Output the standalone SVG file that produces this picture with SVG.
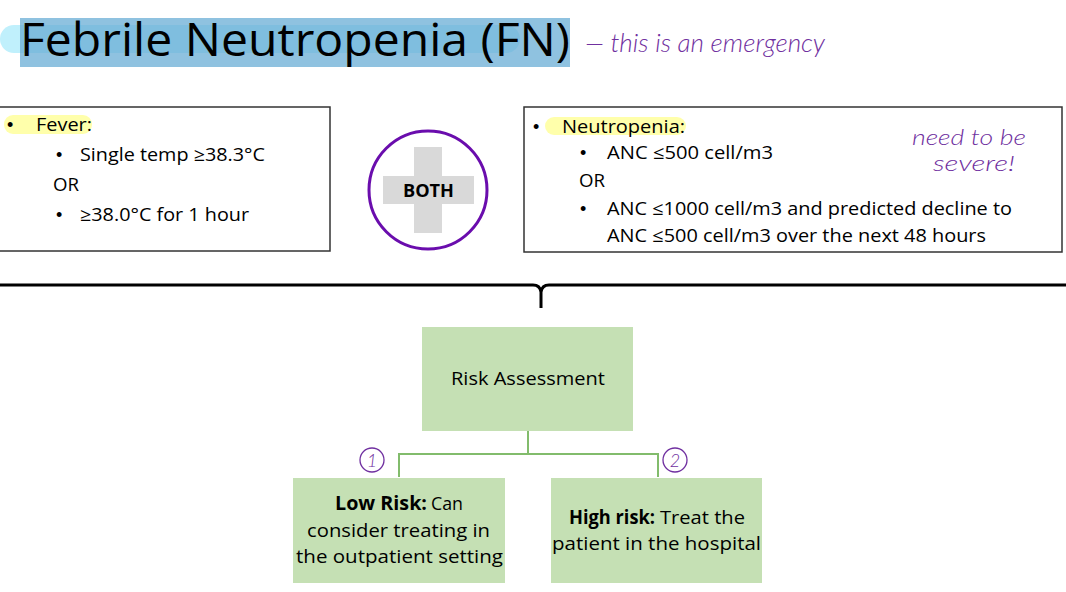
<svg xmlns="http://www.w3.org/2000/svg" width="1066" height="592" viewBox="0 0 1066 592">
<style>
.t{font-family:"Open Sans","Liberation Sans",Arial,sans-serif;fill:#000}
.b{font-family:"Liberation Sans",Arial,sans-serif;font-size:18px;fill:#000}
.hand{font-family:"Lato","DejaVu Sans",sans-serif;font-weight:300;font-style:italic;fill:#7030a0}
.box{fill:#fff;stroke:#333;stroke-width:1.5}
.gbox{fill:#c5e0b4}
.conn{fill:none;stroke:#82bc6c;stroke-width:2}
.hl{fill:#ffff66;opacity:0.55}
</style>
<rect width="1066" height="592" fill="#fff"/>
<g id="title">
  <rect x="0" y="25" width="520" height="28" rx="14" fill="#c0f0fc"/>
  <rect x="20" y="18" width="550" height="49" fill="#6aaed6" opacity="0.75"/>
  <text class="t" x="20" y="56" font-size="46" textLength="550" lengthAdjust="spacingAndGlyphs">Febrile Neutropenia (FN)</text>
  <text class="hand" x="585" y="52" font-size="26" textLength="240" lengthAdjust="spacingAndGlyphs">— this is an emergency</text>
</g>
<g id="fever">
  <rect class="box" x="-1" y="107" width="331" height="144"/>
  <rect class="hl" x="4" y="115" width="88" height="19" rx="9"/>
  <text class="b" x="7" y="131">•</text>
  <text class="b" x="56" y="161">•</text>
  <text class="b" x="56" y="221">•</text>
  <g class="t" font-size="18">
    <text x="36" y="131" textLength="56" lengthAdjust="spacingAndGlyphs">Fever:</text>
    <text x="80" y="161" textLength="185" lengthAdjust="spacingAndGlyphs">Single temp ≥38.3°C</text>
    <text x="53" y="191" textLength="26" lengthAdjust="spacingAndGlyphs">OR</text>
    <text x="80" y="221" textLength="169" lengthAdjust="spacingAndGlyphs">≥38.0°C for 1 hour</text>
  </g>
</g>
<g id="both">
  <circle cx="428" cy="190" r="59" fill="#fff" stroke="#6a0dad" stroke-width="3"/>
  <rect x="414" y="147" width="28" height="86" fill="#d9d9d9"/>
  <rect x="383" y="176" width="91" height="28" fill="#d9d9d9"/>
  <text class="t" x="403" y="197" font-size="17" font-weight="bold" textLength="51" lengthAdjust="spacingAndGlyphs">BOTH</text>
</g>
<g id="neutropenia">
  <rect class="box" x="524" y="107" width="538" height="145"/>
  <rect class="hl" x="545" y="117" width="141" height="18" rx="9"/>
  <text class="b" x="533" y="133">•</text>
  <text class="b" x="580" y="159">•</text>
  <text class="b" x="580" y="215">•</text>
  <g class="t" font-size="18">
    <text x="562" y="133" textLength="123" lengthAdjust="spacingAndGlyphs">Neutropenia:</text>
    <text x="607" y="159" textLength="166" lengthAdjust="spacingAndGlyphs">ANC ≤500 cell/m3</text>
    <text x="579" y="187" textLength="26" lengthAdjust="spacingAndGlyphs">OR</text>
    <text x="607" y="215" textLength="405" lengthAdjust="spacingAndGlyphs">ANC ≤1000 cell/m3 and predicted decline to</text>
    <text x="607" y="242" textLength="379" lengthAdjust="spacingAndGlyphs">ANC ≤500 cell/m3 over the next 48 hours</text>
  </g>
  <text class="hand" x="912" y="145" font-size="21" textLength="114" lengthAdjust="spacingAndGlyphs">need to be</text>
  <text class="hand" x="933" y="171" font-size="21" textLength="82" lengthAdjust="spacingAndGlyphs">severe!</text>
</g>
<g id="brace">
  <path d="M0 285 H533 Q540 285 541 292 V308 M541 292 Q542 285 549 285 H1066" fill="none" stroke="#000" stroke-width="3"/>
</g>
<g id="connectors">
  <path class="conn" d="M528 431 V454 M399 477 V454 H658 V477"/>
</g>
<g id="risk">
  <rect class="gbox" x="422" y="327" width="211" height="104"/>
  <text class="t" x="451" y="385" font-size="19" textLength="154" lengthAdjust="spacingAndGlyphs">Risk Assessment</text>
</g>
<g id="low">
  <rect class="gbox" x="293" y="478" width="212" height="105"/>
  <text class="hand" x="372" y="467" font-size="18" text-anchor="middle" font-style="normal">1</text>
  <circle cx="372" cy="460" r="12" fill="none" stroke="#7030a0" stroke-width="1.3"/>
  <g class="t" font-size="19">
    <text x="335" y="510" font-weight="bold" textLength="92" lengthAdjust="spacingAndGlyphs">Low Risk:</text>
    <text x="431" y="510" textLength="32" lengthAdjust="spacingAndGlyphs">Can</text>
    <text x="307" y="537" textLength="183" lengthAdjust="spacingAndGlyphs">consider treating in</text>
    <text x="296" y="563" textLength="207" lengthAdjust="spacingAndGlyphs">the outpatient setting</text>
  </g>
</g>
<g id="high">
  <rect class="gbox" x="551" y="478" width="211" height="105"/>
  <text class="hand" x="675" y="467" font-size="18" text-anchor="middle" font-style="normal">2</text>
  <circle cx="675" cy="460" r="12" fill="none" stroke="#7030a0" stroke-width="1.3"/>
  <g class="t" font-size="19">
    <text x="569" y="524" font-weight="bold" textLength="86" lengthAdjust="spacingAndGlyphs">High risk:</text>
    <text x="660" y="524" textLength="85" lengthAdjust="spacingAndGlyphs">Treat the</text>
    <text x="552" y="550" textLength="209" lengthAdjust="spacingAndGlyphs">patient in the hospital</text>
  </g>
</g>
</svg>
